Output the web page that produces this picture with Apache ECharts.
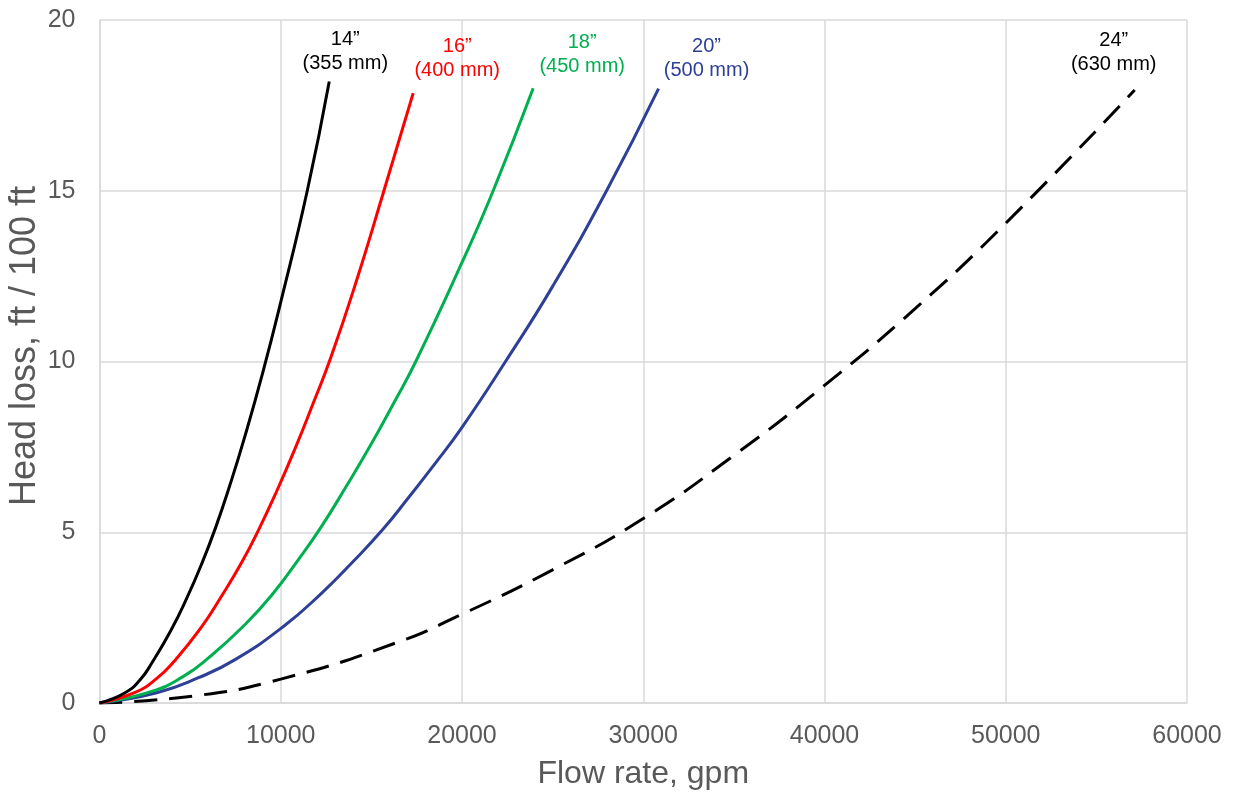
<!DOCTYPE html>
<html><head><meta charset="utf-8">
<script src="https://cdn.jsdelivr.net/npm/echarts@6/dist/echarts.min.js"></script>
<style>html,body{margin:0;padding:0;background:#fff}#c{width:1237px;height:795px}</style>
</head><body><div id="c"></div>
<script>
// Flow rate (gpm) / head loss (ft per 100 ft)
const pipe14 = [[0,0],[1415,0.3],[2243,0.68],[2886,1.17],[3952,2.14],[4816,3.07],[5643,4.08],[6415,5.15],[7200,6.39],[8000,7.77],[9000,9.66],[10000,11.74],[11463,15.0],[12676,18.2]];
const pipe16 = [[0,0],[1967,0.31],[3162,0.72],[4081,1.2],[5551,2.17],[6746,3.14],[7849,4.12],[8805,5.1],[9800,6.23],[10783,7.44],[11800,8.79],[12752,10.1],[14200,12.4],[15692,15.0],[17308,17.86]];
const pipe18 = [[0,0],[2886,0.34],[4632,0.78],[6011,1.32],[8033,2.3],[9596,3.22],[10974,4.2],[12188,5.12],[13600,6.33],[15000,7.59],[16200,8.75],[17450,10.0],[20000,12.9],[21721,15.0],[23927,18.0]];
const pipe20 = [[0,0],[3162,0.3],[5460,0.74],[7482,1.27],[10147,2.24],[12261,3.22],[14007,4.15],[15662,5.1],[17000,5.98],[18500,7.0],[20000,8.07],[22400,10.0],[25000,12.2],[27976,15.0],[30844,17.99]];
const pipe24 = [[0,0],[5276,0.21],[10000,0.70],[16305,1.75],[20000,2.6],[25000,3.9],[30000,5.4],[35000,7.25],[40000,9.3],[45000,11.55],[50000,14.05],[57115,17.95]];
const seriesNames = ['14\u201d\n(355 mm)','16\u201d\n(400 mm)','18\u201d\n(450 mm)','20\u201d\n(500 mm)','24\u201d\n(630 mm)'];
const xTicks = [0,10000,20000,30000,40000,50000,60000];
const yTicks = [0,5,10,15,20];
const xTitle = 'Flow rate, gpm';
const yTitle = 'Head loss, ft / 100 ft';

const colors = ['#000000','#ff0000','#00b050','#2e3f96','#000000'];
const datasets = [pipe14,pipe16,pipe18,pipe20,pipe24];
const labelOffsets = [[16,0],[44,0],[49,0],[48,0],[-21,0]];
const labelDistances = [5,10,9,6,13];
const font = 'Liberation Sans, Arial, sans-serif';

const series = datasets.map((d,i)=>({
  type:'line', name:seriesNames[i], data:d, smooth:0.5, showSymbol:false, symbol:'none',
  lineStyle:{color:colors[i], width:3, type: i===4 ? [23,12] : 'solid', cap:'butt'},
  itemStyle:{color:colors[i]}, z: 5-i,
  markPoint:{
    symbol:'circle', symbolSize:1, silent:true, animation:false,
    itemStyle:{color:'rgba(0,0,0,0)'},
    label:{show:true, position:'top', distance:labelDistances[i], offset:labelOffsets[i],
      formatter: seriesNames[i], color: colors[i], fontSize:20, lineHeight:24, fontFamily:font, align:'center'},
    data:[{coord:d[d.length-1]}]
  }
}));

const chart = echarts.init(document.getElementById('c'), null, {renderer:'canvas'});
chart.setOption({
  animation:false,
  backgroundColor:'#ffffff',
  grid:{left:99.5, right:50, top:20, bottom:91, containLabel:false},
  xAxis:{type:'value', min:xTicks[0], max:xTicks[xTicks.length-1], interval:10000,
    name:xTitle, nameLocation:'middle', nameGap:55,
    nameTextStyle:{fontSize:32, color:'#595959', fontFamily:font},
    axisLine:{show:true, lineStyle:{color:'#d9d9d9', width:1.5}},
    axisTick:{show:false},
    axisLabel:{fontSize:25, color:'#595959', fontFamily:font, margin:21, formatter:(v)=>String(v)},
    splitLine:{show:true, lineStyle:{color:'#d9d9d9', width:1.5}}},
  yAxis:{type:'value', min:yTicks[0], max:yTicks[yTicks.length-1], interval:5,
    axisLine:{show:true, lineStyle:{color:'#d9d9d9', width:1.5}},
    axisTick:{show:false},
    axisLabel:{fontSize:25, color:'#595959', fontFamily:font, margin:24},
    splitLine:{show:true, lineStyle:{color:'#d9d9d9', width:1.5}}},
  graphic:[{type:'text', x:25, y:346, rotation:Math.PI/2,
    style:{text:yTitle, fontSize:36, fill:'#595959', fontFamily:font, align:'center', verticalAlign:'middle'}}],
  series
});
</script></body></html>
